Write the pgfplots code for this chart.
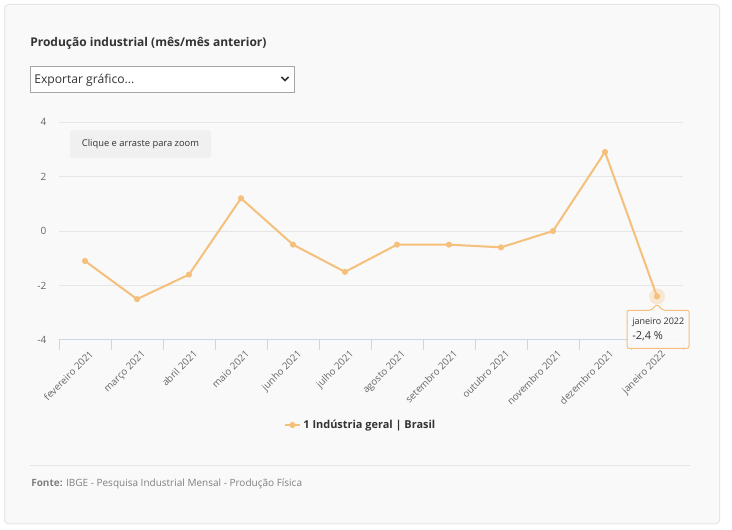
\documentclass[border=0pt]{standalone}
\usepackage{pgfplots}
\pgfplotsset{compat=1.18}
\usepackage{fontspec}
\setmainfont{Open Sans}
\definecolor{lineor}{HTML}{F5C07C}
\definecolor{cardbg}{HTML}{F9F9F9}
\definecolor{cardbd}{HTML}{E6E6E6}
\definecolor{axisc}{HTML}{CCD6EB}
\definecolor{gridc}{HTML}{E6E6E6}
\definecolor{lab}{HTML}{666666}
\definecolor{dark}{HTML}{333333}
\begin{document}
\begin{tikzpicture}
\begin{scope}[x=0.75pt,y=-0.75pt]
\useasboundingbox (0,0) rectangle (732,530);
\fill[white] (0,0) rectangle (732,530);
\draw[cardbd, fill=cardbg, line width=0.75pt, rounded corners=3pt] (4.5,4.5) rectangle (719.5,524);
\node[anchor=base west, inner sep=0pt, text=dark, font=\fontsize{9}{11}\selectfont\bfseries] at (30,47) {Produção industrial (mês/mês anterior)};
\draw[fill=white, draw=gray!70, line width=0.75pt] (30.5,66.5) rectangle (294,92.5);
\node[anchor=base west, inner sep=0pt, text=dark, font=\fontsize{9.1}{11}\selectfont] at (34,84) {Exportar gráfico...};
\draw[dark, line width=1.3pt] (281.5,77) -- (285,80.5) -- (288.5,77);
\fill[black!6, rounded corners=1.5pt] (70,130.5) rectangle (211,158);
\node[text=dark, inner sep=0pt, font=\fontsize{7}{9}\selectfont] at (140.5,144.5) {Clique e arraste para zoom};
\draw[gridc, line width=0.75pt] (30,466) -- (690,466);
\node[anchor=base west, inner sep=0pt, text=black!50, font=\fontsize{7.5}{9}\selectfont] at (31,486.5) {\textbf{Fonte:} IBGE - Pesquisa Industrial Mensal - Produção Física};
\end{scope}
\begin{axis}[
  at={(44.25pt,-255pt)}, anchor=south west,
  scale only axis, width=468pt, height=163.5pt,
  xmin=-0.5, xmax=11.5, ymin=-4, ymax=4,
  xtick={0,1,2,3,4,5,6,7,8,9,10,11},
  xticklabels={fevereiro 2021,março 2021,abril 2021,maio 2021,junho 2021,julho 2021,agosto 2021,setembro 2021,outubro 2021,novembro 2021,dezembro 2021,janeiro 2022},
  ytick={-4,-2,0,2,4},
  yticklabels={-4,-2,0,2,4},
  major tick length=0pt,
  extra x ticks={-0.5,0.5,1.5,2.5,3.5,4.5,5.5,6.5,7.5,8.5,9.5,10.5,11.5},
  extra x tick labels={},
  extra x tick style={major tick length=7.5pt, tick align=outside, major tick style={draw=axisc, line width=0.75pt}},
  axis x line*=bottom, axis y line*=left,
  x axis line style={draw=axisc, line width=0.75pt, -},
  y axis line style={draw=none},
  ymajorgrids, grid style={draw=gridc, line width=0.75pt},
  xticklabel style={rotate=45, anchor=north east, inner sep=1pt, xshift=-2pt, yshift=-6pt, font=\fontsize{7.3}{9}\selectfont, text=lab},
  yticklabel style={font=\fontsize{7.5}{9}\selectfont, text=lab, xshift=-6pt},
  clip=false,
  legend style={at={(0.484,-0.39)}, anchor=center, draw=none, fill=none, font=\fontsize{8.2}{10}\selectfont\bfseries, text=dark},
  legend image code/.code={\draw[#1, line width=1.5pt] (0pt,0pt) -- (11pt,0pt); \fill[lineor] (5.5pt,0pt) circle (1.5pt);},
]
\addplot[forget plot, only marks, mark=*, mark size=6pt, color=lineor, mark options={fill opacity=0.3, draw opacity=0}] coordinates {(11,-2.4)};
\addplot[color=lineor, line width=1.5pt, mark=*, mark size=1.5pt, mark options={solid}] coordinates {
(0,-1.1) (1,-2.5) (2,-1.6) (3,1.2) (4,-0.5) (5,-1.5) (6,-0.5) (7,-0.5) (8,-0.6) (9,0.0) (10,2.9) (11,-2.4)};
\addlegendentry{1 Indústria geral | Brasil}
\coordinate (P) at (axis cs:11,-2.4);
\end{axis}
\begin{scope}[shift={(P)}]
\draw[lineor, fill=cardbg, fill opacity=0.9, line width=0.75pt, rounded corners=1.5pt] (-22.5pt,-10.5pt) -- (-4.5pt,-10.5pt) -- (0pt,-6pt) -- (4.5pt,-10.5pt) -- (24pt,-10.5pt) -- (24pt,-39pt) -- (-22.5pt,-39pt) -- cycle;
\node[anchor=west, inner sep=0pt, text=dark, font=\fontsize{6.75}{8}\selectfont] at (-18.75pt,-19.5pt) {janeiro 2022};
\node[anchor=west, inner sep=0pt, text=dark, font=\fontsize{8.25}{10}\selectfont] at (-18.75pt,-29.5pt) {-2,4 \%};
\end{scope}
\end{tikzpicture}
\end{document}
